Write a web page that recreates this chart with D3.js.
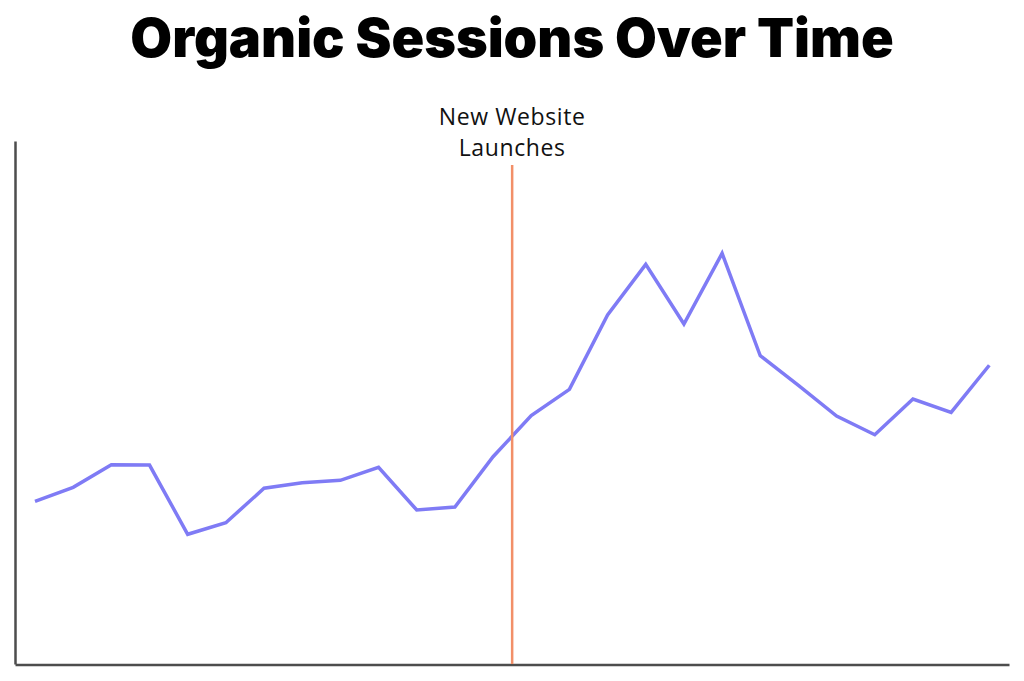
<!DOCTYPE html>
<html>
<head>
<meta charset="utf-8">
<script src="https://cdn.jsdelivr.net/npm/d3@7"></script>
<style>
  html, body { margin: 0; padding: 0; background: #fff; }
  svg { display: block; }
</style>
</head>
<body>
<script>
// ---- data ----
const categories = ["Jan 21","Feb 21","Mar 21","Apr 21","May 21","Jun 21","Jul 21","Aug 21","Sep 21","Oct 21","Nov 21","Dec 21",
  "Jan 22","Feb 22","Mar 22","Apr 22","May 22","Jun 22","Jul 22","Aug 22","Sep 22","Oct 22","Nov 22","Dec 22",
  "Jan 23","Feb 23"];
const sessions = [1555, 1689, 1905, 1902, 1240, 1351, 1680, 1733, 1756, 1880, 1472, 1501,
  1982, 2374, 2626, 3337, 3821, 3250, 3926, 2947, 2664, 2371, 2192, 2533, 2406, 2856];
const launchBetween = ["Jan 22", "Feb 22"];
const titleText = "Organic Sessions Over Time";
const annotationLines = ["New Website", "Launches"];

// ---- layout ----
const W = 1024, H = 681;
const svg = d3.select("body").append("svg").attr("width", W).attr("height", H);

const x = d3.scalePoint().domain(categories).range([35, 989.3]);
const y = d3.scaleLinear().domain([0, 5000]).range([664, 141]);
const frameX = d3.scaleLinear().domain([0, 1]).range([15, 1009]);

// title
svg.append("text")
  .attr("x", 512).attr("y", 57)
  .attr("text-anchor", "middle")
  .style("font-family", "Inter, 'Open Sans', sans-serif")
  .style("font-weight", 900)
  .style("font-size", "54px")
  .style("fill", "#000")
  .text(titleText);

// axes (no ticks)
svg.append("g")
  .attr("transform", "translate(15,0)")
  .call(d3.axisLeft(y).tickValues([]).tickSizeOuter(0))
  .call(g => g.select(".domain").attr("stroke", "#4d4d4d").attr("stroke-width", 2.5));
svg.append("g")
  .attr("transform", "translate(0,664.5)")
  .call(d3.axisBottom(frameX).tickValues([]).tickSizeOuter(0))
  .call(g => g.select(".domain").attr("stroke", "#4d4d4d").attr("stroke-width", 2.5));

// series line
const line = d3.line().x((d, i) => x(categories[i])).y(d => y(d));
svg.append("path")
  .datum(sessions)
  .attr("d", line)
  .attr("fill", "none")
  .attr("stroke", "#7f7bf5")
  .attr("stroke-width", 3.5)
  .attr("stroke-linejoin", "miter");

// launch marker
const lx = (x(launchBetween[0]) + x(launchBetween[1])) / 2;
svg.append("line")
  .attr("x1", lx).attr("x2", lx)
  .attr("y1", 165).attr("y2", 664)
  .attr("stroke", "#f28f68")
  .attr("stroke-width", 2.5);

const ann = svg.append("text")
  .attr("x", lx).attr("y", 125)
  .attr("text-anchor", "middle")
  .style("font-family", "'Open Sans', sans-serif")
  .style("font-size", "23px")
  .style("letter-spacing", "0.6px")
  .style("fill", "#111");
annotationLines.forEach((t, i) => {
  ann.append("tspan").attr("x", lx).attr("dy", i === 0 ? 0 : 31).text(t);
});
</script>
</body>
</html>
